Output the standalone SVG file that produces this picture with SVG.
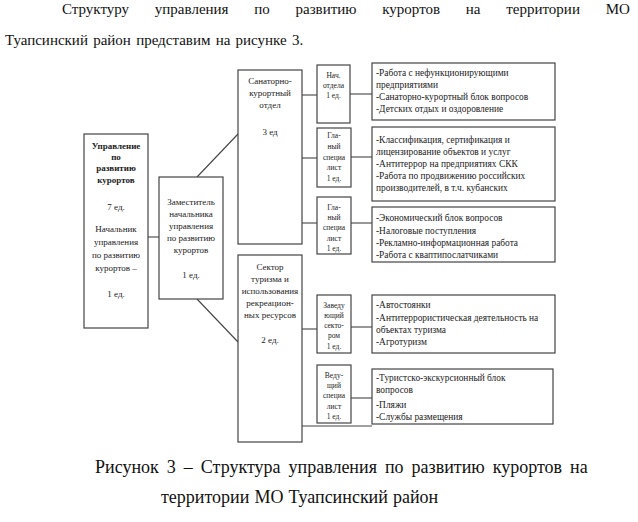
<svg xmlns="http://www.w3.org/2000/svg" width="638" height="522" viewBox="0 0 638 522">
<style>
.bx{fill:#fff;stroke:#444;stroke-width:1.2}
.ln{stroke:#444;stroke-width:1.1;fill:none}
.t{font-family:'Liberation Serif','DejaVu Serif',serif;fill:#222}
.c{text-anchor:middle}
.s9{font-size:9px}
.s8{font-size:7.5px}
.r{font-size:9.4px}
.b{font-weight:bold}
.p{font-size:15px;fill:#111}
.cap{font-size:18px;fill:#111}
</style>
<rect width="638" height="522" fill="#fff"/>
<text class="t p" x="62" y="14" word-spacing="22">Структуру управления по развитию курортов на территории МО</text>
<text class="t p" x="5" y="45" word-spacing="1.5">Туапсинский район представим на рисунке 3.</text>

<g id="connectors">
<line class="ln" x1="148" y1="237" x2="159" y2="237"/>
<line class="ln" x1="197" y1="177" x2="238" y2="134"/>
<line class="ln" x1="197" y1="299" x2="238" y2="342"/>
<line class="ln" x1="302" y1="95" x2="317" y2="95"/>
<line class="ln" x1="350" y1="94" x2="372" y2="94"/>
<line class="ln" x1="302" y1="158" x2="317" y2="158"/>
<line class="ln" x1="351" y1="157" x2="372" y2="157"/>
<line class="ln" x1="302" y1="223" x2="317" y2="223"/>
<line class="ln" x1="351" y1="223" x2="372" y2="223"/>
<line class="ln" x1="302" y1="329" x2="317" y2="329"/>
<line class="ln" x1="351" y1="327" x2="372" y2="327"/>
<line class="ln" x1="351" y1="398" x2="372" y2="398"/>
<line class="ln" x1="302" y1="426" x2="372" y2="426"/>
</g>

<g id="upravlenie">
<rect class="bx" x="84" y="134" width="64" height="194"/>
<text class="t c s9 b" x="116" y="149">Управление</text>
<text class="t c s9 b" x="116" y="160">по</text>
<text class="t c s9 b" x="116" y="171">развитию</text>
<text class="t c s9 b" x="116" y="183">курортов</text>
<text class="t c s9" x="116" y="210">7 ед.</text>
<text class="t c s9" x="116" y="232">Начальник</text>
<text class="t c s9" x="116" y="245">управления</text>
<text class="t c s9" x="116" y="258">по развитию</text>
<text class="t c s9" x="116" y="271">курортов –</text>
<text class="t c s9" x="116" y="297">1 ед.</text>
</g>

<g id="zamestitel">
<rect class="bx" x="159" y="177" width="64" height="122"/>
<text class="t c s9" x="191" y="205">Заместитель</text>
<text class="t c s9" x="191" y="217">начальника</text>
<text class="t c s9" x="191" y="229">управления</text>
<text class="t c s9" x="191" y="241">по развитию</text>
<text class="t c s9" x="191" y="253">курортов</text>
<text class="t c s9" x="191" y="278">1 ед.</text>
</g>

<g id="sanatorno">
<rect class="bx" x="238" y="70" width="64" height="174"/>
<text class="t c s9" x="270" y="84">Санаторно-</text>
<text class="t c s9" x="270" y="96">курортный</text>
<text class="t c s9" x="270" y="108">отдел</text>
<text class="t c s9" x="270" y="135">3 ед</text>
</g>

<g id="sektor">
<rect class="bx" x="238" y="255" width="64" height="187"/>
<text class="t c s9" x="270" y="270">Сектор</text>
<text class="t c s9" x="270" y="282">туризма и</text>
<text class="t c s9" x="270" y="294">использования</text>
<text class="t c s9" x="270" y="306">рекреацион-</text>
<text class="t c s9" x="270" y="318">ных ресурсов</text>
<text class="t c s9" x="270" y="343">2 ед.</text>
</g>

<g id="nach-otdela">
<rect class="bx" x="317" y="65" width="33" height="58"/>
<text class="t c s8" x="333.5" y="78">Нач.</text>
<text class="t c s8" x="333.5" y="88">отдела</text>
<text class="t c s8" x="333.5" y="98">1 ед.</text>
</g>

<g id="glavny-1">
<rect class="bx" x="317" y="128" width="34" height="59"/>
<text class="t c s8" x="334" y="138">Гла-</text>
<text class="t c s8" x="334" y="149">ный</text>
<text class="t c s8" x="334" y="160">специа</text>
<text class="t c s8" x="334" y="170">лист</text>
<text class="t c s8" x="334" y="181">1 ед.</text>
</g>

<g id="glavny-2">
<rect class="bx" x="317" y="197" width="34" height="57"/>
<text class="t c s8" x="334" y="210">Гла-</text>
<text class="t c s8" x="334" y="220">ный</text>
<text class="t c s8" x="334" y="230">специа</text>
<text class="t c s8" x="334" y="241">лист</text>
<text class="t c s8" x="334" y="251">1 ед.</text>
</g>

<g id="zaveduyushchiy">
<rect class="bx" x="317" y="295" width="34" height="58"/>
<text class="t c s8" x="334" y="308">Заведу</text>
<text class="t c s8" x="334" y="318">ющий</text>
<text class="t c s8" x="334" y="328">секто-</text>
<text class="t c s8" x="334" y="338">ром</text>
<text class="t c s8" x="334" y="349">1 ед.</text>
</g>

<g id="vedushchiy">
<rect class="bx" x="317" y="365" width="34" height="58"/>
<text class="t c s8" x="334" y="378">Веду-</text>
<text class="t c s8" x="334" y="388">щий</text>
<text class="t c s8" x="334" y="398">специа</text>
<text class="t c s8" x="334" y="409">лист</text>
<text class="t c s8" x="334" y="419">1 ед.</text>
</g>

<g id="funkcii-1">
<rect class="bx" x="372" y="63" width="183" height="57"/>
<text class="t r" x="376" y="76">-Работа с нефункционирующими</text>
<text class="t r" x="376" y="88">предприятиями</text>
<text class="t r" x="376" y="100">-Санаторно-курортный блок вопросов</text>
<text class="t r" x="376" y="112">-Детских отдых и оздоровление</text>
</g>

<g id="funkcii-2">
<rect class="bx" x="372" y="127" width="183" height="74"/>
<text class="t r" x="376" y="143">-Классификация, сертификация и</text>
<text class="t r" x="376" y="155">лицензирование объектов и услуг</text>
<text class="t r" x="376" y="167">-Антитеррор на предприятиях СКК</text>
<text class="t r" x="376" y="179">-Работа по продвижению российских</text>
<text class="t r" x="376" y="191">производителей, в т.ч. кубанских</text>
</g>

<g id="funkcii-3">
<rect class="bx" x="372" y="207" width="183" height="55"/>
<text class="t r" x="376" y="221">-Экономический блок вопросов</text>
<text class="t r" x="376" y="234">-Налоговые поступления</text>
<text class="t r" x="376" y="246">-Рекламно-информационная работа</text>
<text class="t r" x="376" y="258">-Работа с кваптипослатчиками</text>
</g>

<g id="funkcii-4">
<rect class="bx" x="372" y="295" width="183" height="58"/>
<text class="t r" x="376" y="308">-Автостоянки</text>
<text class="t r" x="376" y="321">-Антитеррористическая деятельность на</text>
<text class="t r" x="376" y="333">объектах туризма</text>
<text class="t r" x="376" y="345">-Агротуризм</text>
</g>

<g id="funkcii-5">
<rect class="bx" x="372" y="369" width="181" height="55"/>
<text class="t r" x="376" y="381">-Туристско-экскурсионный блок</text>
<text class="t r" x="376" y="393">вопросов</text>
<text class="t r" x="376" y="408">-Пляжи</text>
<text class="t r" x="376" y="420">-Службы размещения</text>
</g>

<text class="t cap" x="95" y="473" word-spacing="3.5">Рисунок 3 – Структура управления по развитию курортов на</text>
<text class="t cap" x="161" y="503" word-spacing="0.5">территории МО Туапсинский район</text>
</svg>
